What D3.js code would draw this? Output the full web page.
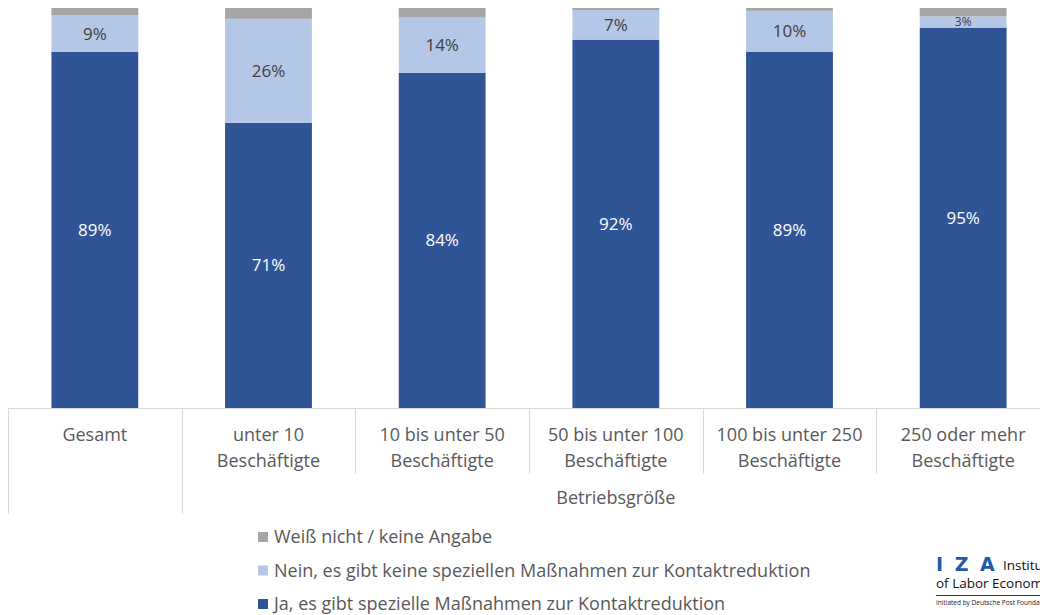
<!DOCTYPE html>
<html>
<head>
<meta charset="utf-8">
<script src="https://cdn.jsdelivr.net/npm/d3@7"></script>
<style>
  body { margin: 0; background: #fff; }
  svg { display: block; font-family: "Open Sans", Lato, sans-serif; }
</style>
</head>
<body>
<div id="chart"></div>
<script>

// Categories (x axis), two-line labels
const categories = ["Gesamt", "unter 10", "10 bis unter 50", "50 bis unter 100", "100 bis unter 250", "250 oder mehr"];
const categoryLines = [
    ["Gesamt"],
    ["unter 10", "Beschäftigte"],
    ["10 bis unter 50", "Beschäftigte"],
    ["50 bis unter 100", "Beschäftigte"],
    ["100 bis unter 250", "Beschäftigte"],
    ["250 oder mehr", "Beschäftigte"]
];
const groupLabel = "Betriebsgröße";

// Series (percent)
const ja = [89.0, 71.3, 83.8, 92.1, 89.1, 95.1];
const nein = [9.2, 26.0, 13.8, 7.4, 10.2, 2.8];
const weissNicht = [1.8, 2.7, 2.4, 0.5, 0.7, 2.1];

const seriesNames = [
    "Ja, es gibt spezielle Maßnahmen zur Kontaktreduktion",
    "Nein, es gibt keine speziellen Maßnahmen zur Kontaktreduktion",
    "Weiß nicht / keine Angabe"
];
const colours = ["#2F5597", "#B4C7E7", "#A5A5A5"];

const width = 1040, height = 615;
const margin = {top: 8, left: 8, bottom: 207};
const plotRight = 1050;   // last band runs past the window edge

const svg = d3.select("#chart").append("svg")
    .attr("width", width)
    .attr("height", height);

const x = d3.scaleBand()
    .domain(categories)
    .range([margin.left, plotRight])
    .paddingInner(0.5)
    .paddingOuter(0.25);

const y = d3.scaleLinear()
    .domain([0, 100])
    .range([height - margin.bottom, margin.top]);

// Stack the three series
const rows = categories.map((c, i) => ({cat: c, ja: ja[i], nein: nein[i], weiss: weissNicht[i]}));
const stack = d3.stack().keys(["ja", "nein", "weiss"]);
const layers = stack(rows);

const layer = svg.selectAll(".layer")
    .data(layers)
    .enter().append("g")
    .attr("class", "layer")
    .style("fill", (d, i) => colours[i]);

layer.selectAll("rect")
    .data((d) => d)
    .enter().append("rect")
    .attr("x", (d) => x(d.data.cat))
    .attr("width", x.bandwidth())
    .attr("y", (d) => y(d[1]))
    .attr("height", (d) => y(d[0]) - y(d[1]));

// Value labels on the first two series
layers.slice(0, 2).forEach(function(L, li) {
    svg.append("g").selectAll("text")
        .data(L)
        .enter().append("text")
        .attr("x", (d) => x(d.data.cat) + x.bandwidth() / 2)
        .attr("y", (d) => (y(d[0]) + y(d[1])) / 2)
        .attr("dy", "0.35em")
        .attr("text-anchor", "middle")
        .style("font-size", (d) => (d[1] - d[0]) < 4 ? "12px" : "17px")
        .style("fill", li === 0 ? "#fff" : "#404040")
        .text((d) => Math.round(d[1] - d[0]) + "%");
});

// Category axis with Excel-style box dividers
const axisY = y(0);
const step = x.step();
const bandStart = (i) => x(categories[i]) - (step - x.bandwidth()) / 2;
const axisColour = "#D9D9D9";

svg.append("line")
    .attr("x1", margin.left).attr("x2", width)
    .attr("y1", axisY + 0.5).attr("y2", axisY + 0.5)
    .style("stroke", axisColour);

categories.forEach(function(c, i) {
    const x0 = Math.round(bandStart(i)) + 0.5;
    const tall = i <= 1;
    svg.append("line")
        .attr("x1", x0).attr("x2", x0)
        .attr("y1", axisY).attr("y2", tall ? axisY + 106 : axisY + 66)
        .style("stroke", axisColour);

    const t = svg.append("text")
        .attr("x", x(c) + x.bandwidth() / 2)
        .attr("y", axisY + 33)
        .attr("text-anchor", "middle")
        .style("font-size", "18px")
        .style("fill", "#595959");
    categoryLines[i].forEach(function(line, k) {
        t.append("tspan")
            .attr("x", x(c) + x.bandwidth() / 2)
            .attr("dy", k === 0 ? 0 : 26)
            .text(line);
    });
});

svg.append("text")
    .attr("x", (bandStart(1) + plotRight) / 2)
    .attr("y", axisY + 96)
    .attr("text-anchor", "middle")
    .style("font-size", "18px")
    .style("fill", "#595959")
    .text(groupLabel);

// Legend (reverse order, as in the picture)
const legendOrder = [2, 1, 0];
const legend = svg.append("g").selectAll("g")
    .data(legendOrder)
    .enter().append("g")
    .attr("transform", (d, k) => "translate(258," + (537 + k * 33.5) + ")");

legend.append("rect")
    .attr("x", 0).attr("y", -5)
    .attr("width", 10).attr("height", 10)
    .style("fill", (d) => colours[d]);

legend.append("text")
    .attr("x", 16)
    .attr("dy", "0.35em")
    .style("font-size", "18px")
    .style("fill", "#595959")
    .text((d) => seriesNames[d]);

// IZA logo (cut at the right edge, as in the picture)
const logo = svg.append("g").attr("transform", "translate(936,0)");
logo.append("text")
    .attr("x", 0).attr("y", 571)
    .style("font-family", "'DejaVu Sans', sans-serif")
    .style("font-size", "19px")
    .style("font-weight", "bold")
    .style("letter-spacing", "2.5px")
    .style("fill", "#1F5CA8")
    .text("I Z A");
logo.append("text")
    .attr("x", 67).attr("y", 570)
    .style("font-size", "13.5px")
    .style("fill", "#111")
    .text("Institute");
logo.append("text")
    .attr("x", 0).attr("y", 588)
    .style("font-size", "13.5px")
    .style("fill", "#111")
    .text("of Labor Economics");
logo.append("line")
    .attr("x1", 0).attr("x2", 110)
    .attr("y1", 595.5).attr("y2", 595.5)
    .style("stroke", "#333");
logo.append("text")
    .attr("x", 0).attr("y", 605)
    .style("font-size", "6.5px")
    .style("fill", "#222")
    .text("Initiated by Deutsche Post Foundation");

</script>
</body>
</html>
